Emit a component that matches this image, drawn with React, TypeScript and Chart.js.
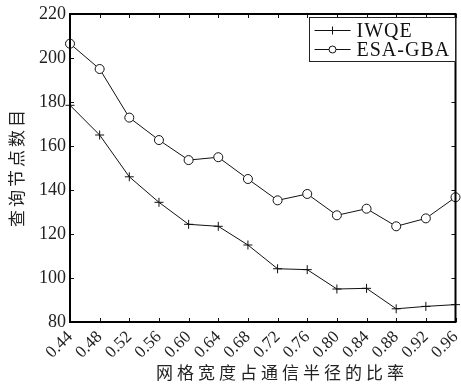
import React, { useEffect, useRef } from "react";
import { Chart, registerables } from "chart.js";

Chart.register(...registerables);

const categories = ["0.44", "0.48", "0.52", "0.56", "0.60", "0.64", "0.68", "0.72", "0.76", "0.80", "0.84", "0.88", "0.92", "0.96"];
const iwqe = [178.5, 165, 146, 134.4, 124.4, 123.5, 115, 104.2, 103.8, 95, 95.3, 86, 87.1, 87.9];
const esaGba = [206.5, 195, 172.9, 162.7, 153.6, 154.9, 145, 135.3, 138.2, 128.5, 131.5, 123.5, 127.1, 136.7];
const seriesNames = ["IWQE", "ESA-GBA"];
const yTicks = [80, 100, 120, 140, 160, 180, 200, 220];
const xTitle = "网格宽度占通信半径的比率";
const yTitle = "查询节点数目";

const framePlugin = {
  id: "framePlugin",
  afterDraw(chart: any) {
    const { ctx, chartArea, scales } = chart;
    const { left, right, top, bottom } = chartArea;
    ctx.save();
    // inward ticks
    ctx.strokeStyle = "#111";
    ctx.lineWidth = 1;
    const tl = 4;
    ctx.beginPath();
    categories.forEach((_, i) => {
      const x = Math.round(scales.x.getPixelForValue(i)) + 0.5;
      ctx.moveTo(x, bottom);
      ctx.lineTo(x, bottom - tl);
      ctx.moveTo(x, top);
      ctx.lineTo(x, top + tl);
    });
    yTicks.forEach((v) => {
      const y = Math.round(scales.y.getPixelForValue(v)) + 0.5;
      ctx.moveTo(left, y);
      ctx.lineTo(left + tl, y);
      ctx.moveTo(right, y);
      ctx.lineTo(right - tl, y);
    });
    ctx.stroke();
    // frame
    ctx.lineWidth = 2;
    ctx.strokeStyle = "#000";
    ctx.strokeRect(left, top, right - left, bottom - top);

    // legend
    const lx = 309.5, ly = 17.5, lw = 146, lh = 44;
    ctx.fillStyle = "#fff";
    ctx.fillRect(lx, ly, lw, lh);
    ctx.lineWidth = 1;
    ctx.strokeStyle = "#222";
    ctx.strokeRect(lx, ly, lw, lh);
    const rows = [
      { y: ly + 13, name: seriesNames[0], marker: "plus" },
      { y: ly + 32, name: seriesNames[1], marker: "circle" },
    ];
    rows.forEach((r) => {
      ctx.strokeStyle = "#111";
      ctx.lineWidth = 1;
      ctx.beginPath();
      ctx.moveTo(lx + 5, r.y);
      ctx.lineTo(lx + 41, r.y);
      ctx.stroke();
      const cx = lx + 23;
      ctx.beginPath();
      if (r.marker === "plus") {
        ctx.moveTo(cx - 4, r.y);
        ctx.lineTo(cx + 4, r.y);
        ctx.moveTo(cx, r.y - 4);
        ctx.lineTo(cx, r.y + 4);
        ctx.stroke();
      } else {
        ctx.arc(cx, r.y, 3.5, 0, Math.PI * 2);
        ctx.fillStyle = "#fff";
        ctx.fill();
        ctx.stroke();
      }
      ctx.fillStyle = "#111";
      ctx.font = "20px 'Liberation Serif', serif";
      (ctx as any).letterSpacing = "1px";
      ctx.textAlign = "left";
      ctx.textBaseline = "middle";
      ctx.fillText(r.name, lx + 47, r.y + 1);
    });

    // titles
    ctx.fillStyle = "#222";
    ctx.font = "17px 'Noto Sans CJK SC', sans-serif";
    ctx.textAlign = "center";
    ctx.textBaseline = "middle";
    (ctx as any).letterSpacing = "4px";
    ctx.fillText(xTitle, 282, 373);
    (ctx as any).letterSpacing = "3px";
    ctx.translate(17, 168);
    ctx.rotate(-Math.PI / 2);
    ctx.fillText(yTitle, 1, 0);
    ctx.restore();
  },
};

export default function App() {
  const ref = useRef<HTMLCanvasElement>(null);
  useEffect(() => {
    document.body.style.margin = "0";
    const chart = new Chart(ref.current!, {
      type: "line",
      data: {
        labels: categories,
        datasets: [
          {
            label: seriesNames[0],
            data: iwqe,
            borderColor: "#111",
            backgroundColor: "#111",
            borderWidth: 1,
            pointStyle: "cross",
            pointRadius: 4.5,
            pointBorderWidth: 1,
            pointBorderColor: "#111",
            tension: 0,
          },
          {
            label: seriesNames[1],
            data: esaGba,
            borderColor: "#111",
            backgroundColor: "#fff",
            borderWidth: 1,
            pointStyle: "circle",
            pointRadius: 4.5,
            pointBorderWidth: 1,
            pointBorderColor: "#111",
            pointBackgroundColor: "#fff",
            tension: 0,
          },
        ],
      },
      options: {
        responsive: false,
        animation: false,
        layout: { padding: { left: 0, top: 14, right: 2, bottom: 0 } },
        plugins: { legend: { display: false }, tooltip: { enabled: false } },
        scales: {
          x: {
            type: "category",
            offset: false,
            grid: { display: false, drawTicks: false },
            border: { display: false },
            ticks: {
              autoSkip: false,
              minRotation: 45,
              maxRotation: 45,
              padding: 5,
              color: "#222",
              font: { family: "'Liberation Serif', serif", size: 17 },
            },
            afterFit: (s: any) => {
              s.height = 64;
              s.paddingLeft = 0;
              s.paddingRight = 0;
            },
          },
          y: {
            min: 80,
            max: 220,
            grid: { display: false, drawTicks: false },
            border: { display: false },
            ticks: {
              stepSize: 20,
              padding: 4,
              color: "#222",
              font: { family: "'Liberation Serif', serif", size: 18 },
            },
            afterFit: (s: any) => {
              s.width = 70;
              s.paddingTop = 0;
              s.paddingBottom = 0;
            },
          },
        },
      },
      plugins: [framePlugin],
    });
    return () => chart.destroy();
  }, []);
  return (
    <div style={{ position: "absolute", left: 0, top: 0, width: 461, height: 386 }}>
      <canvas ref={ref} width={461} height={386} />
    </div>
  );
}
